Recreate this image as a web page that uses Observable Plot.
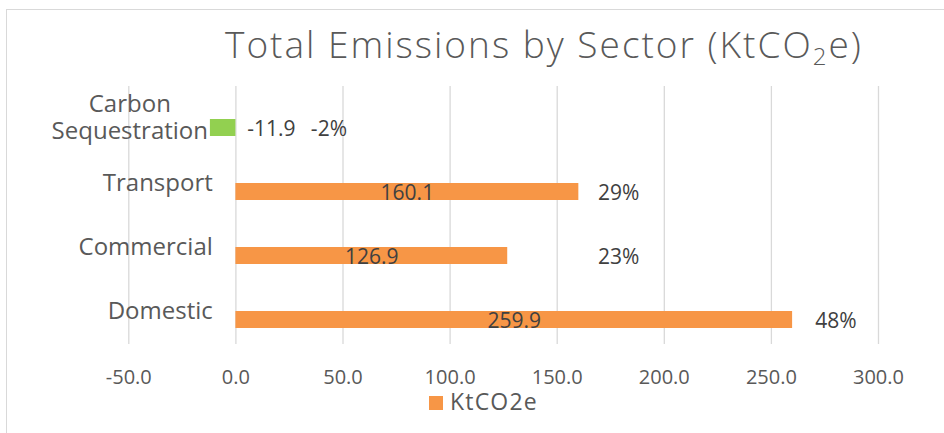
<!DOCTYPE html>
<html>
<head>
<meta charset="utf-8">
<script src="https://cdn.jsdelivr.net/npm/d3@7"></script>
<script src="https://cdn.jsdelivr.net/npm/@observablehq/plot@0.6"></script>
<style>
  html, body { margin: 0; padding: 0; background: #fff; }
  body { width: 944px; height: 433px; position: relative; overflow: hidden; font-family: "Open Sans", sans-serif; }
  #frame { position: absolute; left: 6px; top: 9px; right: 0; bottom: 0; border-top: 1px solid #d9d9d9; border-left: 1px solid #d9d9d9; }
  #title { position: absolute; left: 225px; top: 25px; font-size: 37px; line-height: 37px; font-weight: 300; color: #595959; white-space: nowrap; letter-spacing: 2px; }
  #title sub { font-size: 24px; vertical-align: -7px; line-height: 0; }
  #chart { position: absolute; left: 0; top: 70px; }
  #legend { position: absolute; left: 429px; top: 390px; display: flex; align-items: center; color: #595959; font-size: 23px; line-height: 23px; letter-spacing: 1.2px; }
  #legend .sw { width: 14px; height: 14px; margin-right: 7px; margin-top: 3px; }
</style>
</head>
<body>
<div id="frame"></div>
<div id="title">Total Emissions by Sector (KtCO<sub>2</sub>e)</div>
<div id="chart"></div>
<div id="legend"><span class="sw"></span><span id="legendText"></span></div>
<script>
// ---- data ----
const sectors = ["Carbon Sequestration", "Transport", "Commercial", "Domestic"];
const emissions = [-11.9, 160.1, 126.9, 259.9];
const shares = [-2, 29, 23, 48];
const xTicks = [-50, 0, 50, 100, 150, 200, 250, 300];
const seriesName = "KtCO2e";

// ---- styling / layout ----
const ORANGE = "#F79646";
const GREEN = "#92D050";
const GRID = "#d9d9d9";
const AXIS_TEXT = "#595959";
const LABEL_TEXT = "#404040";
// label anchors in data units (where Excel placed them)
const pctLabelAt = {"Carbon Sequestration": 35, "Transport": 169, "Commercial": 169, "Domestic": 270.5};
const negValueLabelAt = 16.6;

const data = sectors.map((s, i) => ({sector: s, value: emissions[i], share: shares[i]}));

document.querySelector("#legend .sw").style.background = ORANGE;
document.getElementById("legendText").textContent = seriesName;

const chart = Plot.plot({
  width: 944,
  height: 320,
  marginTop: 16,
  marginBottom: 46,
  marginLeft: 128.3,
  marginRight: 66,
  style: {fontFamily: "Open Sans", color: AXIS_TEXT, overflow: "visible", background: "transparent"},
  x: {domain: [-50, 300], axis: null},
  y: {domain: sectors, paddingInner: 0.474, paddingOuter: 0.2318, axis: null},
  marks: [
    Plot.gridX(xTicks, {stroke: GRID, strokeOpacity: 1, strokeWidth: 1.3}),
    Plot.axisX(xTicks, {label: null, tickSize: 0, tickPadding: 25, tickFormat: d => d.toFixed(1), fontSize: 20, letterSpacing: 1.2, fill: AXIS_TEXT}),
    Plot.barX(data, {x: "value", y: "sector", insetTop: 17, fill: d => d.value < 0 ? GREEN : ORANGE}),
    // category labels
    Plot.text(sectors.filter(s => s !== "Carbon Sequestration"), {
      y: d => d, text: d => d, frameAnchor: "left", textAnchor: "end", dx: 84,
      fontSize: 24, fill: AXIS_TEXT, letterSpacing: 2
    }),
    Plot.text(["Carbon Sequestration"], {
      y: d => d, text: () => "Carbon\nSequestration", frameAnchor: "left", textAnchor: "middle", dx: 1, dy: -3,
      lineHeight: 1.14, fontSize: 24, fill: AXIS_TEXT, letterSpacing: 2
    }),
    // value labels
    Plot.text(data, {
      x: d => d.value > 0 ? d.value / 2 : negValueLabelAt, y: "sector", dy: 9.5,
      text: d => d.value.toFixed(1), fontSize: 21, fill: LABEL_TEXT
    }),
    // share labels
    Plot.text(data, {
      x: d => pctLabelAt[d.sector], y: "sector", dy: 9.5, textAnchor: "start",
      text: d => d.share + "%", fontSize: 21, fill: LABEL_TEXT
    })
  ]
});
document.getElementById("chart").appendChild(chart);
</script>
</body>
</html>
